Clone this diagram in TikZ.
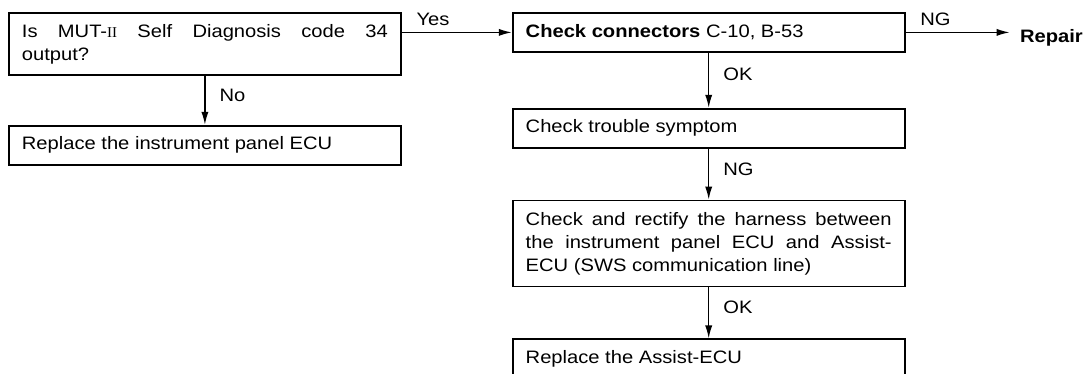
\documentclass[tikz,border=0pt]{standalone}
\usepackage{fontspec}
\setmainfont{Liberation Sans}[FakeStretch=1.12]
\newfontfamily\romanii{Liberation Serif}
\usetikzlibrary{arrows.meta}
\usetikzlibrary{positioning}
\hyphenpenalty=10000

\begin{document}
\begin{tikzpicture}[>={Latex[length=6.5pt,width=3.6pt]}]
        \tikzset{block/.style= {draw, line width=0.9pt, rectangle, align=justify, text width=183pt, inner xsep=6.5pt, minimum height=19.5pt, font=\fontsize{9pt}{11.5pt}\selectfont},
        lbl/.style={inner sep=0pt, font=\fontsize{9pt}{11pt}\selectfont},
        }
        \useasboundingbox (0,0) rectangle (546pt,-187pt);
        \node [block, minimum height=31pt, anchor=north west] (ask) at (4pt,-6pt) {Is MUT-{\romanii\fontsize{7.5pt}{9pt}\selectfont II} Self Diagnosis code 34\linebreak output?};
        \node [block, below=24.5pt of ask] (ecu) {Replace the instrument panel ECU};
        \node [block, right=55pt of ask.north east, anchor=north west] (conn) {\textbf{Check connectors} C-10, B-53};
        \node [block, below=27.5pt of conn] (symptom) {Check trouble symptom};
        \node [block, minimum height=43pt, below=25.5pt of symptom] (harness) {Check and rectify the harness between\linebreak the instrument panel ECU and Assist-\linebreak ECU (SWS communication line)};
        \node [block, below=25.5pt of harness] (assist) {Replace the Assist-ECU};
        \node [lbl, inner xsep=5pt, font=\fontsize{9pt}{11pt}\selectfont\bfseries, right=52pt of conn, yshift=-2.5pt] (repair) {Repair};
        \coordinate (ngend) at (conn.east -| repair.west);
        \coordinate (yesstart) at (ask.east |- conn.west);

%% paths
        \path[->,line width=0.7pt] (ask) edge node[lbl, right=7pt, pos=0.4] (no) {No} (ecu)
                    (yesstart) edge node[lbl, above right=3pt and 7pt, pos=0] (yes) {Yes} (conn)
                    (conn) edge node[lbl, right=7pt, pos=0.4] (ok1) {OK} (symptom)
                    (conn) edge node[lbl, above right=3pt and 7pt, pos=0] (ng1) {NG} (ngend)
                    (symptom) edge node[lbl, right=7pt, pos=0.4] (ng2) {NG} (harness)
                    (harness) edge node[lbl, right=7pt, pos=0.4] (ok2) {OK} (assist)
                    ;
    \end{tikzpicture}
\end{document}
